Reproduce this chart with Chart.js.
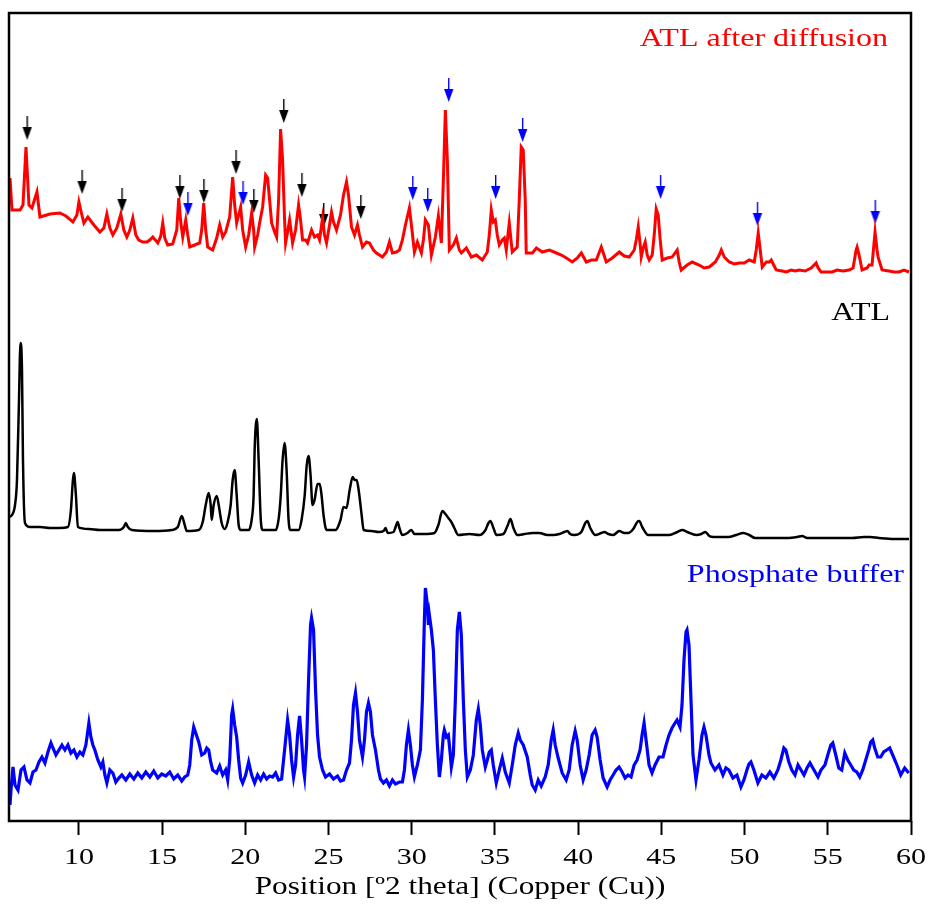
<!DOCTYPE html>
<html>
<head>
<meta charset="utf-8">
<script src="https://cdn.jsdelivr.net/npm/chart.js@4/dist/chart.umd.min.js"></script>
<style>
  body { margin: 0; background: #fff; }
  canvas { display: block; }
</style>
</head>
<body>
<canvas id="xrd" width="931" height="909"></canvas>
<script>
// trace labels, top to bottom
const seriesNames = ["ATL after diffusion", "ATL", "Phosphate buffer"];
const xTicks = [10, 15, 20, 25, 30, 35, 40, 45, 50, 55, 60];
const xTitle = "Position [\u00BA2 theta] (Copper (Cu))";

// [2theta, intensity] (arbitrary units)
const atlDiffusion = [
  [5.86,102],[5.98,70],[6.46,70],[6.64,75],[6.82,133],[7.0,75],[7.18,72],[7.48,88],[7.66,63],[8.26,66],
  [8.86,67],[9.22,64],[9.64,58],[9.88,65],[10.0,78],[10.18,65],[10.3,57],[10.54,63],[10.9,55],[11.26,48],
  [11.5,52],[11.68,66],[11.86,52],[12.04,45],[12.28,52],[12.52,66],[12.7,50],[12.88,43],[13.06,50],[13.24,62],
  [13.42,45],[13.6,40],[13.84,38],[14.08,38],[14.26,40],[14.44,43],[14.74,37],[14.92,44],[15.04,57],[15.16,42],
  [15.34,35],[15.64,36],[15.88,50],[16.0,82],[16.12,58],[16.24,43],[16.42,60],[16.54,45],[16.66,33],[16.96,35],
  [17.26,37],[17.38,50],[17.5,77],[17.62,50],[17.74,33],[18.04,30],[18.28,42],[18.46,55],[18.64,43],[18.82,48],
  [19.06,63],[19.24,103],[19.36,75],[19.48,57],[19.6,65],[19.72,73],[19.84,50],[20.02,33],[20.2,45],[20.38,67],
  [20.5,50],[20.56,33],[20.74,45],[20.86,57],[21.04,73],[21.22,105],[21.34,102],[21.46,80],[21.58,57],[21.76,48],
  [21.88,43],[22.0,80],[22.12,151],[22.24,120],[22.36,60],[22.42,37],[22.54,48],[22.66,60],[22.78,45],[22.84,37],
  [23.02,50],[23.2,75],[23.32,60],[23.44,40],[23.62,40],[23.74,37],[23.98,50],[24.16,43],[24.34,45],[24.46,40],
  [24.64,62],[24.76,45],[24.88,37],[25.06,55],[25.18,68],[25.3,58],[25.48,50],[25.72,65],[25.9,85],[26.08,98],
  [26.2,85],[26.38,53],[26.56,45],[26.74,55],[26.86,45],[27.04,33],[27.28,38],[27.46,37],[27.7,30],[27.88,27],
  [28.24,23],[28.48,28],[28.66,38],[28.84,27],[29.08,28],[29.26,30],[29.44,40],[29.62,55],[29.86,72],[29.98,55],
  [30.16,28],[30.34,38],[30.58,27],[30.7,40],[30.82,60],[31.0,55],[31.18,25],[31.42,43],[31.6,64],[31.78,37],
  [31.9,100],[32.02,170],[32.14,120],[32.26,30],[32.5,35],[32.68,42],[32.86,30],[32.98,27],[33.28,32],[33.58,23],
  [33.88,25],[34.24,20],[34.54,28],[34.66,45],[34.78,70],[34.9,58],[35.02,60],[35.14,45],[35.26,35],[35.44,40],
  [35.56,42],[35.68,30],[35.86,57],[36.04,28],[36.34,33],[36.46,80],[36.58,133],[36.7,130],[36.82,80],[36.88,27],
  [37.25,27],[37.49,32],[37.85,28],[38.27,30],[38.69,27],[38.99,25],[39.29,22],[39.65,18],[39.95,22],[40.19,27],
  [40.49,18],[40.79,20],[41.09,20],[41.39,33],[41.69,18],[42.05,22],[42.47,28],[42.77,24],[43.07,23],[43.37,30],
  [43.49,40],[43.61,53],[43.73,35],[43.79,23],[43.91,32],[44.03,38],[44.15,25],[44.27,20],[44.45,25],[44.57,45],
  [44.69,71],[44.81,65],[44.93,40],[45.05,20],[45.35,22],[45.65,23],[45.95,30],[46.07,18],[46.19,10],[46.55,15],
  [46.85,18],[47.27,15],[47.57,12],[47.88,13],[48.24,18],[48.48,25],[48.6,30],[48.78,23],[49.08,18],[49.38,16],
  [49.68,17],[49.98,17],[50.28,20],[50.58,18],[50.7,30],[50.82,47],[50.94,30],[51.06,13],[51.3,18],[51.48,18],
  [51.6,20],[51.78,14],[51.9,10],[52.26,9],[52.5,8],[52.8,10],[53.04,9],[53.28,10],[53.64,9],[54.0,12],
  [54.3,17],[54.42,12],[54.6,8],[54.9,8],[55.26,8],[55.56,10],[55.92,9],[56.28,10],[56.52,12],[56.7,30],
  [56.76,33],[56.88,25],[57.06,10],[57.36,12],[57.48,15],[57.66,15],[57.84,48],[57.96,30],[58.02,23],[58.26,10],
  [58.68,9],[58.98,8],[59.28,8],[59.58,10],[59.88,8]
];

const atlPure = [
  [5.8,31],[5.98,33],[6.16,43],[6.28,68],[6.4,148],[6.49,205],[6.58,178],[6.64,88],[6.76,25],[7.06,21],
  [7.66,21],[8.26,20],[8.86,20],[9.34,21],[9.52,38],[9.64,68],[9.7,75],[9.82,53],[9.94,21],[10.6,19],
  [11.26,18],[12.4,18],[12.7,21],[12.82,25],[12.94,21],[13.18,18],[14.5,17],[15.58,18],[15.94,21],[16.18,32],
  [16.36,23],[16.48,17],[17.2,18],[17.44,26],[17.62,43],[17.8,55],[17.92,43],[17.98,28],[18.1,43],[18.28,52],
  [18.4,43],[18.58,25],[18.76,19],[18.94,26],[19.12,43],[19.24,68],[19.36,78],[19.48,53],[19.6,23],[19.72,18],
  [20.2,18],[20.38,28],[20.5,53],[20.56,98],[20.69,129],[20.8,88],[20.93,28],[21.05,18],[21.83,18],[22.01,30],
  [22.13,53],[22.24,88],[22.36,105],[22.48,78],[22.6,28],[22.72,18],[23.2,18],[23.38,28],[23.57,53],[23.69,83],
  [23.8,92],[23.92,73],[24.04,43],[24.16,48],[24.34,64],[24.47,64],[24.58,53],[24.7,33],[24.88,18],[25.42,18],
  [25.72,28],[25.9,41],[26.08,40],[26.27,58],[26.45,71],[26.57,68],[26.69,68],[26.81,58],[26.99,33],[27.11,18],
  [27.59,17],[28.01,16],[28.31,17],[28.43,20],[28.55,15],[28.91,16],[29.03,21],[29.15,26],[29.26,20],[29.44,13],
  [29.74,15],[29.98,18],[30.16,14],[30.76,14],[31.36,15],[31.6,23],[31.84,37],[32.02,34],[32.2,30],[32.38,26],
  [32.56,20],[32.8,13],[33.47,14],[34.07,13],[34.43,18],[34.61,25],[34.72,27],[34.91,20],[35.09,13],[35.51,14],
  [35.75,22],[35.93,29],[36.11,20],[36.35,13],[36.78,14],[37.25,15],[37.67,15],[38.15,13],[38.51,13],[38.87,14],
  [39.17,16],[39.35,17],[39.52,14],[39.77,13],[40.19,16],[40.43,25],[40.55,27],[40.73,20],[41.03,13],[41.39,15],
  [41.57,16],[41.81,14],[42.11,13],[42.47,17],[42.77,15],[43.01,15],[43.31,19],[43.55,26],[43.67,27],[43.85,21],
  [44.21,13],[44.87,13],[45.48,13],[45.96,16],[46.26,18],[46.56,16],[47.1,13],[47.4,14],[47.64,16],[47.88,12],
  [48.12,11],[49.02,11],[49.5,13],[49.92,15],[50.28,13],[50.64,10],[51.48,10],[52.56,10],[53.16,11],[53.46,12],
  [53.76,10],[54.0,10],[55.08,10],[56.46,10],[57.18,11],[57.54,11],[58.08,10],[58.98,9],[59.88,9]
];

const phosphateBuffer = [
  [5.86,16],[5.92,31],[6.04,54],[6.16,36],[6.34,31],[6.52,51],[6.7,54],[6.88,41],[7.06,38],[7.24,49],
  [7.42,51],[7.6,59],[7.78,64],[7.96,58],[8.14,69],[8.32,78],[8.44,73],[8.62,66],[8.8,71],[8.98,76],
  [9.16,71],[9.34,76],[9.52,68],[9.7,71],[9.88,64],[10.06,69],[10.24,66],[10.42,76],[10.6,98],[10.72,84],
  [10.84,76],[10.96,71],[11.14,61],[11.32,54],[11.44,59],[11.56,46],[11.68,38],[11.86,51],[12.04,48],[12.22,39],
  [12.4,43],[12.58,46],[12.82,41],[13.06,47],[13.3,42],[13.54,48],[13.78,43],[14.02,49],[14.26,44],[14.5,50],
  [14.74,43],[14.98,47],[15.22,45],[15.46,49],[15.7,42],[15.94,46],[16.18,40],[16.36,44],[16.54,46],[16.66,56],
  [16.78,81],[16.9,94],[17.02,88],[17.2,79],[17.38,66],[17.56,68],[17.68,73],[17.8,71],[17.92,59],[18.04,51],
  [18.28,48],[18.46,55],[18.64,46],[18.82,51],[18.94,41],[19.06,61],[19.18,106],[19.24,112],[19.36,96],[19.48,84],
  [19.6,61],[19.72,43],[19.84,38],[20.02,46],[20.2,59],[20.38,46],[20.56,38],[20.74,46],[20.92,41],[21.1,47],
  [21.28,42],[21.46,45],[21.64,44],[21.82,48],[22.0,41],[22.18,42],[22.36,71],[22.54,101],[22.66,86],[22.78,61],
  [22.9,44],[23.02,56],[23.14,86],[23.26,105],[23.38,81],[23.5,51],[23.56,44],[23.68,76],[23.8,141],[23.92,196],
  [23.98,203],[24.1,191],[24.22,131],[24.34,86],[24.46,64],[24.64,51],[24.82,44],[25.06,47],[25.3,42],[25.54,45],
  [25.72,40],[25.9,41],[26.08,51],[26.26,58],[26.38,81],[26.5,116],[26.62,128],[26.74,109],[26.86,81],[27.04,64],
  [27.16,81],[27.28,109],[27.4,118],[27.52,109],[27.64,86],[27.82,71],[28.0,51],[28.12,42],[28.3,38],[28.48,41],
  [28.66,35],[28.84,41],[29.02,37],[29.26,39],[29.44,39],[29.56,51],[29.68,76],[29.8,91],[29.92,76],[30.04,56],
  [30.16,44],[30.34,56],[30.52,71],[30.64,121],[30.76,201],[30.82,233],[30.94,216],[31.0,196],[31.06,206],[31.18,191],
  [31.3,171],[31.42,121],[31.54,76],[31.66,44],[31.78,61],[31.9,86],[31.96,91],[32.08,84],[32.2,86],[32.32,66],
  [32.38,54],[32.5,66],[32.62,121],[32.74,191],[32.86,209],[32.98,186],[33.1,121],[33.22,71],[33.34,44],[33.52,51],
  [33.7,66],[33.88,101],[34.0,112],[34.12,96],[34.24,71],[34.42,54],[34.54,61],[34.66,69],[34.78,71],[34.9,56],
  [35.08,38],[35.26,51],[35.44,63],[35.62,49],[35.86,38],[36.04,56],[36.22,76],[36.4,88],[36.52,81],[36.7,76],
  [36.94,64],[37.12,46],[37.24,36],[37.42,31],[37.6,41],[37.78,35],[38.02,44],[38.2,56],[38.38,81],[38.5,91],
  [38.62,76],[38.8,63],[39.04,48],[39.28,41],[39.46,51],[39.64,76],[39.82,90],[39.94,81],[40.12,56],[40.3,41],
  [40.48,51],[40.66,66],[40.84,86],[41.02,91],[41.14,84],[41.32,61],[41.5,43],[41.74,34],[41.92,41],[42.1,46],
  [42.28,51],[42.46,54],[42.64,49],[42.82,43],[43.0,46],[43.18,44],[43.36,56],[43.54,61],[43.72,71],[43.84,86],
  [43.96,98],[44.08,81],[44.26,56],[44.44,48],[44.62,56],[44.86,64],[45.1,64],[45.28,76],[45.46,86],[45.64,93],
  [45.82,98],[45.94,101],[46.12,94],[46.24,116],[46.36,161],[46.48,189],[46.54,191],[46.66,176],[46.78,121],[46.9,66],
  [47.08,41],[47.26,61],[47.44,86],[47.56,94],[47.68,86],[47.86,66],[47.98,58],[48.22,51],[48.46,56],[48.7,46],
  [48.88,53],[49.06,51],[49.3,43],[49.54,46],[49.78,34],[49.96,41],[50.14,51],[50.26,57],[50.38,59],[50.56,51],
  [50.8,38],[51.04,46],[51.28,43],[51.52,49],[51.76,43],[52.0,51],[52.18,61],[52.36,73],[52.48,71],[52.66,59],
  [52.84,51],[53.03,46],[53.21,56],[53.39,51],[53.57,46],[53.75,53],[53.93,58],[54.17,51],[54.41,44],[54.59,51],
  [54.83,56],[55.0,66],[55.18,76],[55.3,78],[55.48,66],[55.66,53],[55.84,51],[56.02,68],[56.2,61],[56.38,56],
  [56.56,51],[56.74,49],[56.92,44],[57.1,51],[57.28,61],[57.46,71],[57.58,79],[57.7,81],[57.82,73],[58.0,64],
  [58.18,64],[58.36,69],[58.54,71],[58.72,73],[58.9,66],[59.08,59],[59.2,54],[59.38,46],[59.62,53],[59.86,48]
];

// marker arrows on the "after diffusion" trace: [2theta, intensity at arrow centre]
const blackArrows = [
  [6.88,152],[10.18,98],[12.58,80],[16.06,93],[17.5,89],[19.43,118],[20.5,79],[22.3,169],[23.39,95],[24.7,65],[26.93,73]
];
const blueArrows = [
  [16.54,76],[19.85,87],[30.05,92],[30.95,80],[32.21,190],[35.03,93],[36.65,150],[44.94,93],[50.76,66],[57.84,68]
];

// vertical stacking of the three patterns
const offsets = [541, 273, 0];

const toPoints = (pairs, off) => pairs.map(([x, y]) => ({ x: x, y: y + off }));

const makeArrow = (color) => {
  const c = document.createElement("canvas");
  c.width = 11;
  c.height = 24;
  const g = c.getContext("2d");
  g.fillStyle = color;
  g.fillRect(5, 0, 1.4, 13);
  g.beginPath();
  g.moveTo(1, 11);
  g.lineTo(10.4, 11);
  g.lineTo(5.7, 24);
  g.closePath();
  g.fill();
  return c;
};

const stretchText = (ctx, text, x, y, align, sx) => {
  ctx.save();
  ctx.translate(x, y);
  ctx.scale(sx, 1);
  ctx.textAlign = align;
  ctx.fillText(text, 0, 0);
  ctx.restore();
};

const SERIF = "'Liberation Serif', 'Times New Roman', serif";

const framePlugin = {
  id: "frameAndText",
  afterDraw(chart) {
    const { ctx, chartArea: a, scales } = chart;
    ctx.save();
    ctx.strokeStyle = "#000";
    ctx.lineWidth = 2.5;
    ctx.strokeRect(a.left, a.top, a.right - a.left, a.bottom - a.top);

    ctx.textBaseline = "middle";
    ctx.font = "25px " + SERIF;
    ctx.fillStyle = "#ff0000";
    stretchText(ctx, seriesNames[0], 888, 39, "right", 1.28);
    ctx.fillStyle = "#000";
    stretchText(ctx, seriesNames[1], 890, 313, "right", 1.28);
    ctx.fillStyle = "#0000ff";
    stretchText(ctx, seriesNames[2], 904, 575, "right", 1.28);

    ctx.fillStyle = "#000";
    ctx.font = "24px " + SERIF;
    scales.x.ticks.forEach((t) => {
      stretchText(ctx, String(t.value), scales.x.getPixelForValue(t.value), a.bottom + 37, "center", 1.25);
    });
    ctx.font = "25px " + SERIF;
    stretchText(ctx, xTitle, (a.left + a.right) / 2, a.bottom + 66, "center", 1.25);
    ctx.restore();
  },
};

new Chart(document.getElementById("xrd").getContext("2d"), {
  type: "line",
  data: {
    datasets: [
      {
        label: seriesNames[0],
        data: toPoints(atlDiffusion, offsets[0]),
        borderColor: "#ff0000",
        borderWidth: 3,
        pointRadius: 0,
        tension: 0,
      },
      {
        label: seriesNames[1],
        data: toPoints(atlPure, offsets[1]),
        borderColor: "#000000",
        borderWidth: 2.5,
        pointRadius: 0,
        cubicInterpolationMode: "monotone",
      },
      {
        label: seriesNames[2],
        data: toPoints(phosphateBuffer, offsets[2]),
        borderColor: "#0000ff",
        borderWidth: 3.2,
        pointRadius: 0,
        tension: 0,
      },
      {
        type: "scatter",
        label: "arrows (black)",
        data: toPoints(blackArrows, offsets[0]),
        pointStyle: makeArrow("#000000"),
        showLine: false,
      },
      {
        type: "scatter",
        label: "arrows (blue)",
        data: toPoints(blueArrows, offsets[0]),
        pointStyle: makeArrow("#0000ff"),
        showLine: false,
      },
    ],
  },
  options: {
    responsive: false,
    animation: false,
    layout: { padding: { left: 9, right: 20, top: 13, bottom: 0 } },
    plugins: {
      legend: { display: false },
      tooltip: { enabled: false },
    },
    scales: {
      x: {
        type: "linear",
        min: 5.8,
        max: 60,
        afterBuildTicks: (scale) => {
          scale.ticks = xTicks.map((v) => ({ value: v }));
        },
        afterFit: (scale) => {
          scale.height = 88;
        },
        ticks: { display: false },
        border: { display: false },
        grid: {
          drawOnChartArea: false,
          drawTicks: true,
          tickLength: 14,
          tickWidth: 2,
          tickColor: "#000",
        },
      },
      y: {
        display: false,
        min: 0,
        max: 808,
      },
    },
  },
  plugins: [framePlugin],
});
</script>
</body>
</html>
